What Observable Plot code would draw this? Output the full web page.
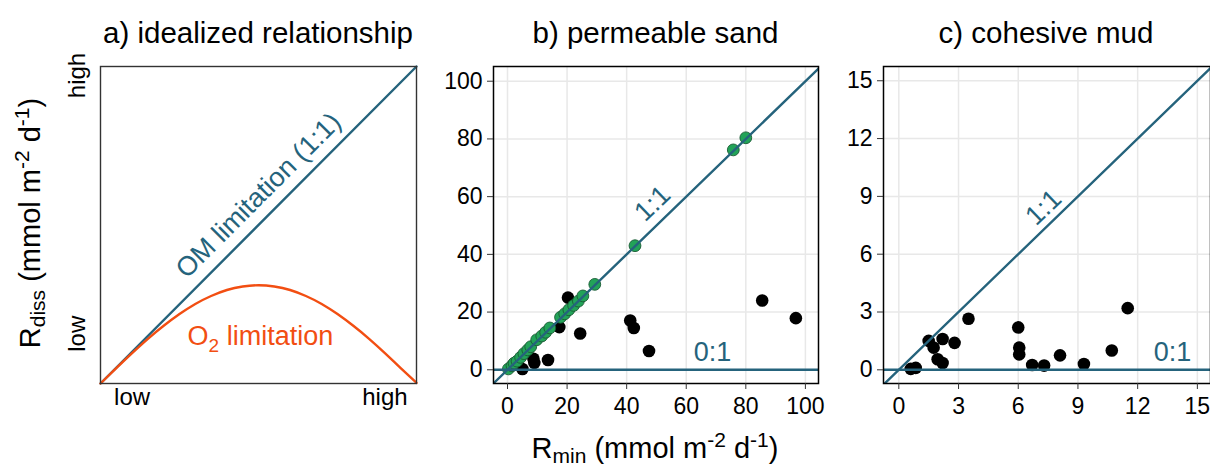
<!DOCTYPE html>
<html><head><meta charset="utf-8">
<script src="https://cdn.jsdelivr.net/npm/d3@7"></script>
<script src="https://cdn.jsdelivr.net/npm/@observablehq/plot@0.6"></script>
<style>
body{margin:0;background:#fff;overflow:hidden}
#wrap{position:relative;width:1210px;height:468px;font-family:"Liberation Sans",Arial,sans-serif;overflow:hidden}
.panel{position:absolute;top:0}
#overlay{position:absolute;left:0;top:0;pointer-events:none}
</style></head>
<body><div id="wrap"></div>
<script>
// ---------- data ----------
const panelTitles = ["a) idealized relationship", "b) permeable sand", "c) cohesive mud"];
const idealTickPos = [0.1, 0.9];
const idealTickLabels = ["low", "high"];
const idealX  = [0,0.05,0.1,0.15,0.2,0.25,0.3,0.35,0.4,0.45,0.5,0.55,0.6,0.65,0.7,0.75,0.8,0.85,0.9,0.95,1];
const idealO2 = [0,0.0485,0.0958,0.141,0.182,0.219,0.251,0.276,0.295,0.306,0.31,0.306,0.295,0.276,0.251,0.219,0.182,0.141,0.0958,0.0485,0.002];
const idealOM = [0, 1];

const sandGreenRmin = [0.3,1.5,2.2,3.2,4.4,5.5,6.8,7.8,9.8,11.5,12.8,14.2,17.8,19.2,20.6,22.2,23.8,25.3,29.3,42.8,75.8,80.0];
const sandGreenRdiss= [0.3,1.4,2.3,3.0,4.3,5.6,6.9,8.0,10.4,11.7,13.0,14.5,18.2,19.4,20.8,22.3,23.8,25.6,29.6,43.0,76.2,80.4];
const sandBlackRmin = [5.0,8.7,9.0,13.6,17.4,20.3,24.4,41.2,42.4,47.5,85.5,96.8];
const sandBlackRdiss= [0.3,3.8,2.4,3.4,14.8,25.0,12.6,17.1,14.5,6.5,24.0,17.9];
const mudRmin  = [0.6,0.85,1.5,1.75,2.2,1.95,2.2,2.8,3.5,6.0,6.05,6.05,6.7,7.3,8.1,9.3,10.7,11.5];
const mudRdiss = [0.05,0.1,1.5,1.15,1.6,0.55,0.35,1.4,2.65,2.2,1.15,0.8,0.25,0.22,0.75,0.3,1.0,3.2];
const sandTicks = [0,20,40,60,80,100];
const mudTicks  = [0,3,6,9,12,15];
const refLabels = ["1:1", "0:1"];

// ---------- style ----------
const teal = "#25637c", orange = "#f24e12", green = "#22a358", greenStroke = "#1a5a33";
const FONT = '"Liberation Sans", Arial, sans-serif';
const tickFont = 23, annFont = 27;

const wrap = document.getElementById("wrap");
function place(svg, left) { svg.classList.add("panel"); svg.style.left = left + "px"; wrap.appendChild(svg); }
const zip = (a, b) => a.map((v, i) => ({x: v, y: b[i]}));

// ---------- panel a ----------
const aX = [0, 1], aY = [0, 1];
const pa = Plot.plot({
  width: 430, height: 468, marginLeft: 100, marginRight: 14, marginTop: 66, marginBottom: 85,
  style: {fontFamily: FONT, background: "transparent", overflow: "visible"},
  x: {domain: aX, axis: null}, y: {domain: aY, axis: null},
  marks: [
    Plot.line(zip(idealOM, idealOM), {x: "x", y: "y", stroke: teal, strokeWidth: 2.4}),
    Plot.line(zip(idealX, idealO2), {x: "x", y: "y", stroke: orange, strokeWidth: 2.4, curve: "natural"}),
    Plot.frame({stroke: "#333", strokeWidth: 1.4}),
    Plot.text(idealTickPos, {x: d => d, text: (d, i) => idealTickLabels[i], frameAnchor: "bottom", dy: 21, fontSize: 24, fill: "#000"}),
    Plot.text(idealTickPos, {y: d => d, text: (d, i) => idealTickLabels[i], frameAnchor: "left", dx: -23, rotate: -90, fontSize: 24, fill: "#000"}),
    Plot.text(["OM limitation (1:1)"], {x: 0.5, y: 0.593, text: d => d, rotate: -45, fontSize: annFont, fill: teal}),
    Plot.text(["O2 limitation"], {x: 0.506, y: 0.15, text: d => d, fontSize: annFont, fill: orange})
  ]
});
d3.select(pa).selectAll("text").filter(function(){ return this.textContent === "O2 limitation"; })
  .each(function(){
    const t = d3.select(this); t.text("");
    t.append("tspan").text("O");
    t.append("tspan").attr("dy", 7).attr("font-size", 19).text("2");
    t.append("tspan").attr("dy", -7).text(" limitation");
  });
place(pa, 0);

// ---------- scatter panel builder ----------
function scatter({left, width, mLeft, mRight, xDom, yDom, ticks, black, greenPts, lab11, lab01}) {
  const marks = [
    Plot.gridX(ticks, {stroke: "#e8e8e8", strokeOpacity: 1, strokeWidth: 1.5}),
    Plot.gridY(ticks, {stroke: "#e8e8e8", strokeOpacity: 1, strokeWidth: 1.5}),
    Plot.dot(black, {x: "x", y: "y", r: 6.3, fill: "#000"})
  ];
  if (greenPts) marks.push(Plot.dot(greenPts, {x: "x", y: "y", r: 5.9, fill: green, stroke: greenStroke, strokeWidth: 0.9}));
  marks.push(
    Plot.line(zip(xDom, xDom), {x: "x", y: "y", stroke: teal, strokeWidth: 2.4, clip: true}),
    Plot.ruleY([0], {stroke: teal, strokeWidth: 2.4}),
    Plot.frame({stroke: "#000", strokeWidth: 1.5}),
    Plot.axisX(ticks, {tickSize: 6, tickPadding: 8, fontSize: tickFont, label: null, stroke: "#333", fill: "#000"}),
    Plot.axisY(ticks, {tickSize: 6, tickPadding: 5, fontSize: tickFont, label: null, stroke: "#333", fill: "#000"}),
    Plot.text([refLabels[0]], {x: lab11[0], y: lab11[1], text: d => d, rotate: -44, fontSize: annFont, fill: teal}),
    Plot.text([refLabels[1]], {x: lab01[0], y: lab01[1], text: d => d, fontSize: annFont, fill: teal})
  );
  const p = Plot.plot({
    width, height: 468, marginLeft: mLeft, marginRight: mRight, marginTop: 66, marginBottom: 85,
    style: {fontFamily: FONT, background: "transparent", overflow: "visible"},
    x: {domain: xDom}, y: {domain: yDom},
    marks
  });
  place(p, left);
}

scatter({left: 430, width: 400, mLeft: 63, mRight: 12, xDom: [-4.7, 104.4], yDom: [-4.75, 105.1], ticks: sandTicks,
  black: zip(sandBlackRmin, sandBlackRdiss), greenPts: zip(sandGreenRmin, sandGreenRdiss), lab11: [48.7, 57.6], lab01: [68.8, 6.0]});
scatter({left: 830, width: 380, mLeft: 53, mRight: 0, xDom: [-0.77, 15.66], yDom: [-0.71, 15.74], ticks: mudTicks,
  black: zip(mudRmin, mudRdiss), greenPts: null, lab11: [7.27, 8.42], lab01: [13.75, 0.9]});

// ---------- titles & axis titles ----------
const ov = d3.select(wrap).append("svg").attr("id", "overlay").attr("width", 1210).attr("height", 468)
  .style("font-family", FONT);
const titleX = [258, 655.5, 1046];
ov.selectAll("text.title").data(panelTitles).join("text").attr("class", "title")
  .attr("x", (d, i) => titleX[i]).attr("y", 43).attr("text-anchor", "middle").attr("font-size", 29.5).attr("fill", "#000").text(d => d);

function richLabel(sel, main, sub) {
  sel.append("tspan").text(main);
  sel.append("tspan").attr("font-size", 21).attr("dy", 5).text(sub);
  sel.append("tspan").attr("dy", -5).text(" (mmol m");
  sel.append("tspan").attr("font-size", 21).attr("dy", -11).text("-2");
  sel.append("tspan").attr("dy", 11).text(" d");
  sel.append("tspan").attr("font-size", 21).attr("dy", -11).text("-1");
  sel.append("tspan").attr("dy", 11).text(")");
}
const xt = ov.append("text").attr("x", 655).attr("y", 458).attr("text-anchor", "middle").attr("font-size", 29).attr("fill", "#000");
richLabel(xt, "R", "min");
const yt = ov.append("text").attr("transform", "translate(40,223) rotate(-90)").attr("text-anchor", "middle").attr("font-size", 29).attr("fill", "#000");
richLabel(yt, "R", "diss");
</script>
</body></html>
